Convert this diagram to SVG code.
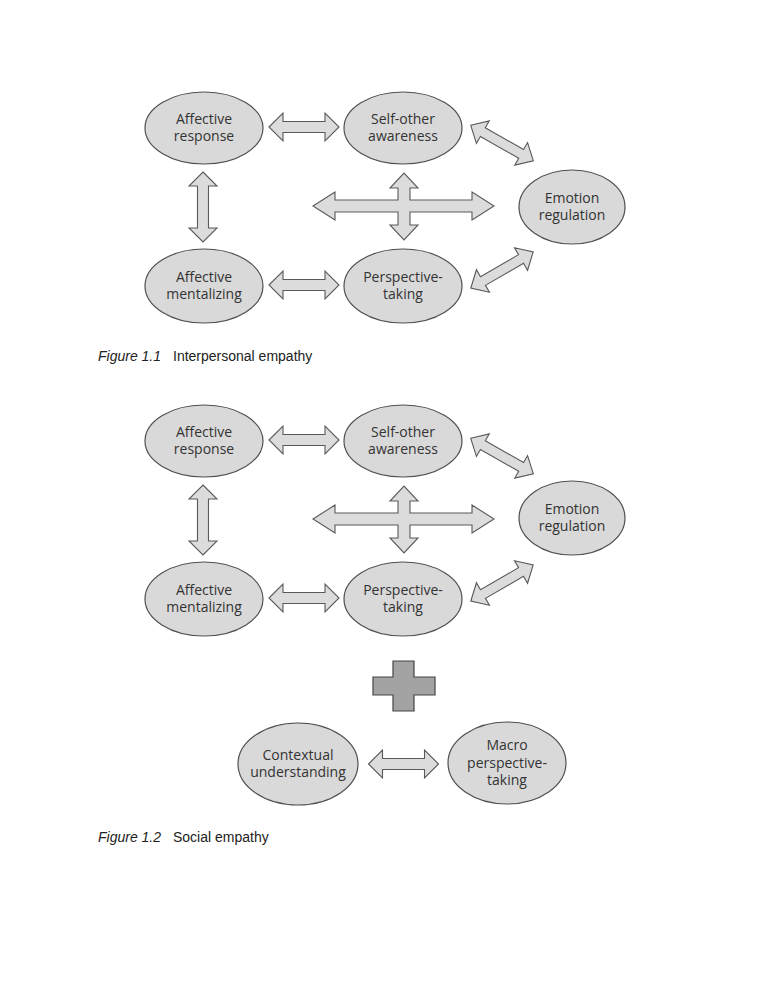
<svg xmlns="http://www.w3.org/2000/svg" width="772" height="1000" viewBox="0 0 772 1000">
<style>
.node{fill:#d9d9d9;stroke:#505050;stroke-width:1.2}
.lbl{font-family:"Open Sans","DejaVu Sans",sans-serif;font-size:14px;fill:#333;text-anchor:middle}
.arr{fill:#dcdcdc;stroke:#5a5a5a;stroke-width:1.1;stroke-linejoin:miter}
.plus{fill:#a3a3a3;stroke:#444;stroke-width:1.2}
.cap{font-family:"Liberation Sans",Arial,sans-serif;font-size:14px;fill:#222}
</style>
<defs>
<path id="dbl" d="M-35,0 L-21,-14 L-21,-5.5 L21,-5.5 L21,-14 L35,0 L21,14 L21,5.5 L-21,5.5 L-21,14 Z"/>
<path id="dbld" d="M-36,0 L-22,-13 L-22,-5 L22,-5 L22,-13 L36,0 L22,13 L22,5 L-22,5 L-22,13 Z"/>
<path id="cross" d="M313,206 L335,192 L335,200 L398,200 L398,188 L390,188 L404,173 L418,188 L410,188 L410,200 L472,200 L472,192 L494,206 L472,220 L472,212 L410,212 L410,225 L418,225 L404,240 L390,225 L398,225 L398,212 L335,212 L335,220 Z"/>
</defs>

<!-- Figure 1.1 -->
<g id="connectors-fig1">
<use href="#dbl" class="arr" transform="translate(304,127)"/>
<use href="#dbl" class="arr" transform="translate(304,285)"/>
<use href="#dbl" class="arr" transform="translate(203,207) rotate(90)"/>
<use href="#cross" class="arr"/>
<use href="#dbld" class="arr" transform="translate(502,143) rotate(29.5)"/>
<use href="#dbld" class="arr" transform="translate(502,270) rotate(-30)"/>
</g>
<g id="f1-affective-response"><ellipse class="node" cx="204" cy="128" rx="59" ry="36"/><text class="lbl" x="204" y="124">Affective</text><text class="lbl" x="204" y="141">response</text></g>
<g id="f1-self-other-awareness"><ellipse class="node" cx="403" cy="128" rx="59" ry="36"/><text class="lbl" x="403" y="124">Self-other</text><text class="lbl" x="403" y="141">awareness</text></g>
<g id="f1-affective-mentalizing"><ellipse class="node" cx="204" cy="286" rx="59" ry="37"/><text class="lbl" x="204" y="282">Affective</text><text class="lbl" x="204" y="299">mentalizing</text></g>
<g id="f1-perspective-taking"><ellipse class="node" cx="403" cy="286" rx="59" ry="37"/><text class="lbl" x="403" y="282">Perspective-</text><text class="lbl" x="403" y="299">taking</text></g>
<g id="f1-emotion-regulation"><ellipse class="node" cx="572" cy="207" rx="53" ry="37"/><text class="lbl" x="572" y="203">Emotion</text><text class="lbl" x="572" y="220">regulation</text></g>
<text class="cap" x="98" y="361"><tspan font-style="italic">Figure 1.1</tspan><tspan x="173">Interpersonal empathy</tspan></text>

<!-- Figure 1.2 -->
<g id="connectors-fig2">
<use href="#dbl" class="arr" transform="translate(304,440)"/>
<use href="#dbl" class="arr" transform="translate(304,598)"/>
<use href="#dbl" class="arr" transform="translate(203,520) rotate(90)"/>
<use href="#cross" class="arr" transform="translate(0,313)"/>
<use href="#dbld" class="arr" transform="translate(502,456) rotate(29.5)"/>
<use href="#dbld" class="arr" transform="translate(502,583) rotate(-30)"/>
<use href="#dbl" class="arr" transform="translate(403.5,764)"/>
</g>
<g id="f2-affective-response"><ellipse class="node" cx="204" cy="441" rx="59" ry="36"/><text class="lbl" x="204" y="437">Affective</text><text class="lbl" x="204" y="454">response</text></g>
<g id="f2-self-other-awareness"><ellipse class="node" cx="403" cy="441" rx="59" ry="36"/><text class="lbl" x="403" y="437">Self-other</text><text class="lbl" x="403" y="454">awareness</text></g>
<g id="f2-affective-mentalizing"><ellipse class="node" cx="204" cy="599" rx="59" ry="37"/><text class="lbl" x="204" y="595">Affective</text><text class="lbl" x="204" y="612">mentalizing</text></g>
<g id="f2-perspective-taking"><ellipse class="node" cx="403" cy="599" rx="59" ry="37"/><text class="lbl" x="403" y="595">Perspective-</text><text class="lbl" x="403" y="612">taking</text></g>
<g id="f2-emotion-regulation"><ellipse class="node" cx="572" cy="518" rx="53" ry="37"/><text class="lbl" x="572" y="514">Emotion</text><text class="lbl" x="572" y="531">regulation</text></g>
<g id="plus"><path class="plus" d="M393,661 L414,661 L414,677 L435,677 L435,695 L414,695 L414,711 L393,711 L393,695 L373,695 L373,677 L393,677 Z"/></g>
<g id="f2-contextual-understanding"><ellipse class="node" cx="298" cy="764" rx="60" ry="41"/><text class="lbl" x="298" y="760">Contextual</text><text class="lbl" x="298" y="777">understanding</text></g>
<g id="f2-macro-perspective-taking"><ellipse class="node" cx="507" cy="763" rx="59" ry="41"/><text class="lbl" x="507" y="750">Macro</text><text class="lbl" x="507" y="767.5">perspective-</text><text class="lbl" x="507" y="785">taking</text></g>
<text class="cap" x="98" y="842"><tspan font-style="italic">Figure 1.2</tspan><tspan x="173">Social empathy</tspan></text>
</svg>
